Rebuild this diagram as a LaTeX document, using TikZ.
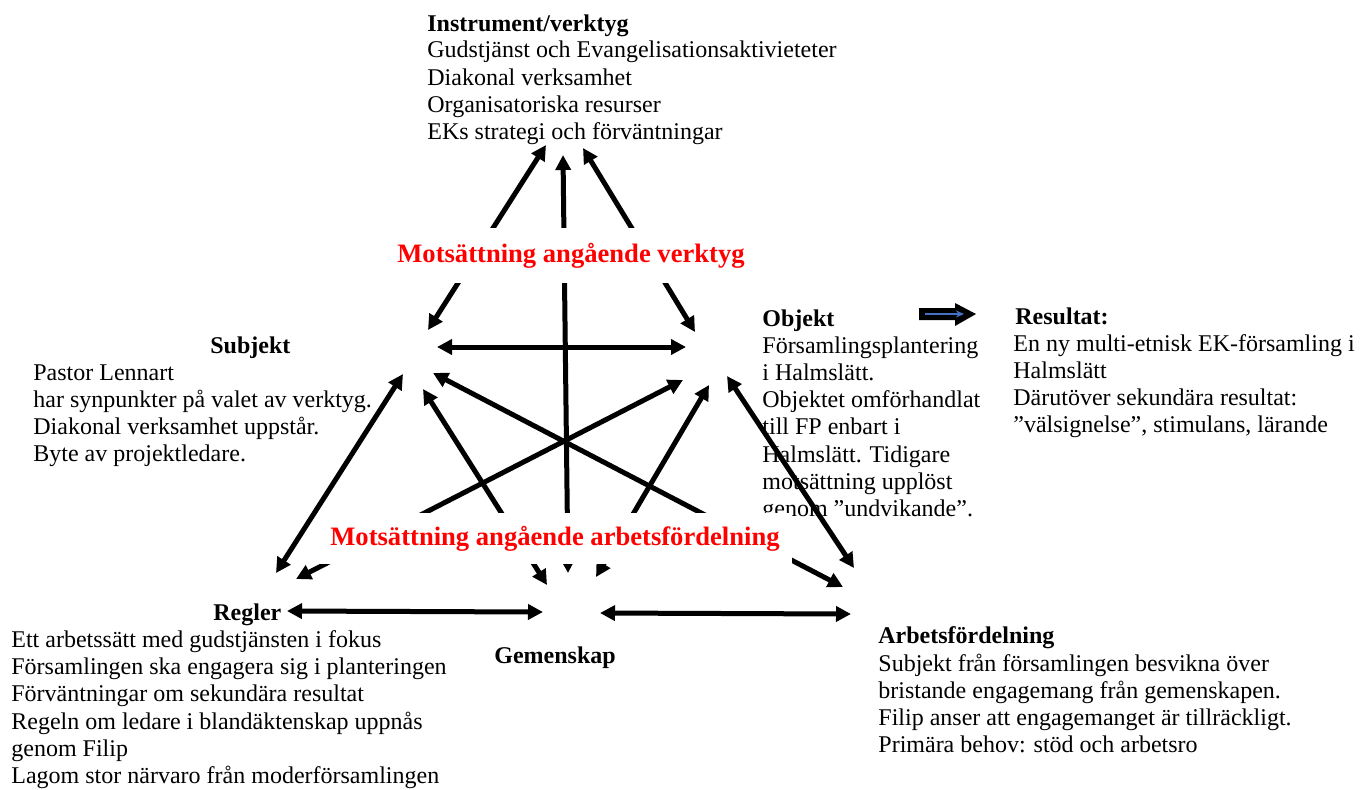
\documentclass[tikz,border=0pt]{standalone}
\usepackage{fontspec}
\setmainfont{Liberation Serif}
\usetikzlibrary{arrows.meta}
\definecolor{pilblue}{RGB}{68,114,196}
\newcommand{\textrows}[1]{\begin{tabular}[t]{@{}l@{}}#1\end{tabular}}
\tikzstyle{txt} = [anchor=base west, inner sep=0pt,
    font=\fontsize{12}{13.65}\selectfont]
\tikzstyle{head} = [txt, font=\fontsize{12}{13.65}\selectfont\bfseries]
\tikzstyle{conflict} = [fill=white, text=red, inner xsep=6pt,
    font=\fontsize{13.3}{15}\selectfont\bfseries]
\tikzstyle{link} = [{Triangle[length=7.5pt,width=7.5pt]}-{Triangle[length=7.5pt,width=7.5pt]},
    line width=2.5pt]

\begin{document}
\begin{tikzpicture}[x=0.5pt, y=-0.5pt]
    \useasboundingbox (0,0) rectangle (1369,789);

    % texts
    \node[head] at (427,31) (tool) {Instrument/verktyg};
    \node[txt] at (427,57.7) (tooltxt) {\textrows{Gudstjänst och Evangelisationsaktivieteter\\
        Diakonal verksamhet\\ Organisatoriska resurser\\ EKs strategi och förväntningar}};

    \node[head] at (210,353) (subj) {Subjekt};
    \node[txt] at (33,380) (subjtxt) {\textrows{Pastor Lennart\\ har synpunkter på valet av verktyg.\\
        Diakonal verksamhet uppstår.\\ Byte av projektledare.}};

    \node[head] at (762,326) (obj) {Objekt};
    \begin{scope}
        \clip (750,330) rectangle (1000,516);
        \node[txt] at (762,353) (objtxt) {\textrows{Församlingsplantering\\ i Halmslätt.\\
            Objektet omförhandlat\\ till FP enbart i\\ Halmslätt. Tidigare\\
            motsättning upplöst\\ genom ”undvikande”.}};
    \end{scope}

    \node[head] at (1015,324) (res) {Resultat:};
    \node[txt] at (1013,351) (restxt) {\textrows{En ny multi-etnisk EK-församling i\\ Halmslätt\\
        Därutöver sekundära resultat:\\ ”välsignelse”, stimulans, lärande}};

    \node[head] at (213,620) (rules) {Regler};
    \node[txt] at (11,647.3) (rulestxt) {\textrows{Ett arbetssätt med gudstjänsten i fokus\\
        Församlingen ska engagera sig i planteringen\\
        Förväntningar om sekundära resultat\\
        Regeln om ledare i blandäktenskap uppnås\\ genom Filip\\
        Lagom stor närvaro från moderförsamlingen}};

    \node[head] at (494,663) (comm) {Gemenskap};

    \node[head] at (878,643) (div) {Arbetsfördelning};
    \node[txt] at (878,671) (divtxt) {\textrows{Subjekt från församlingen besvikna över\\
        bristande engagemang från gemenskapen.\\
        Filip anser att engagemanget är tillräckligt.\\
        Primära behov: stöd och arbetsro}};

    % arrow ends
    \coordinate (T1) at (546,145);  \coordinate (T2) at (563,155);  \coordinate (T3) at (583,148);
    \coordinate (S1) at (428,330);  \coordinate (S2) at (437,347);  \coordinate (S3) at (403,374);
    \coordinate (S4) at (433,373);  \coordinate (S5) at (423,389);
    \coordinate (O1) at (695,332);  \coordinate (O2) at (686,347);  \coordinate (O3) at (727,376);
    \coordinate (O4) at (683,380);  \coordinate (O5) at (709,385);
    \coordinate (R1) at (276,573);  \coordinate (R2) at (287,611);  \coordinate (R3) at (296,579);
    \coordinate (C1) at (568,573);  \coordinate (C2) at (543,612);  \coordinate (C3) at (600,613);
    \coordinate (C4) at (547,585);  \coordinate (C5) at (596,577);
    \coordinate (D1) at (854,568);  \coordinate (D2) at (851,614);  \coordinate (D3) at (843,587);

    \draw[link] (S1) -- (T1);
    \draw[link] (C1) -- (T2);
    \draw[link] (O1) -- (T3);
    \draw[link] (S2) -- (O2);
    \draw[link] (R1) -- (S3);
    \draw[link] (D1) -- (O3);
    \draw[link] (R2) -- (C2);
    \draw[link] (C3) -- (D2);
    \draw[link] (R3) -- (O4);
    \draw[link] (D3) -- (S4);
    \draw[link] (C4) -- (S5);
    \draw[link] (C5) -- (O5);

    % contradictions
    \node[conflict, minimum height=27.5pt] at (571,255.5) (tension1) {Motsättning angående verktyg};
    \node[conflict, minimum height=25.5pt] at (555,538.5) (tension2) {Motsättning angående arbetsfördelning};

    % result arrow
    \fill (919,308) -- (955,308) -- (955,303) -- (976,314) -- (955,326) -- (955,320) -- (919,320) -- cycle;
    \coordinate (p1) at (925,314);
    \coordinate (p2) at (964,314);
    \draw[pilblue, line width=0.8pt, -{Stealth[length=4pt,width=3.5pt]}] (p1) -- (p2);
\end{tikzpicture}
\end{document}
